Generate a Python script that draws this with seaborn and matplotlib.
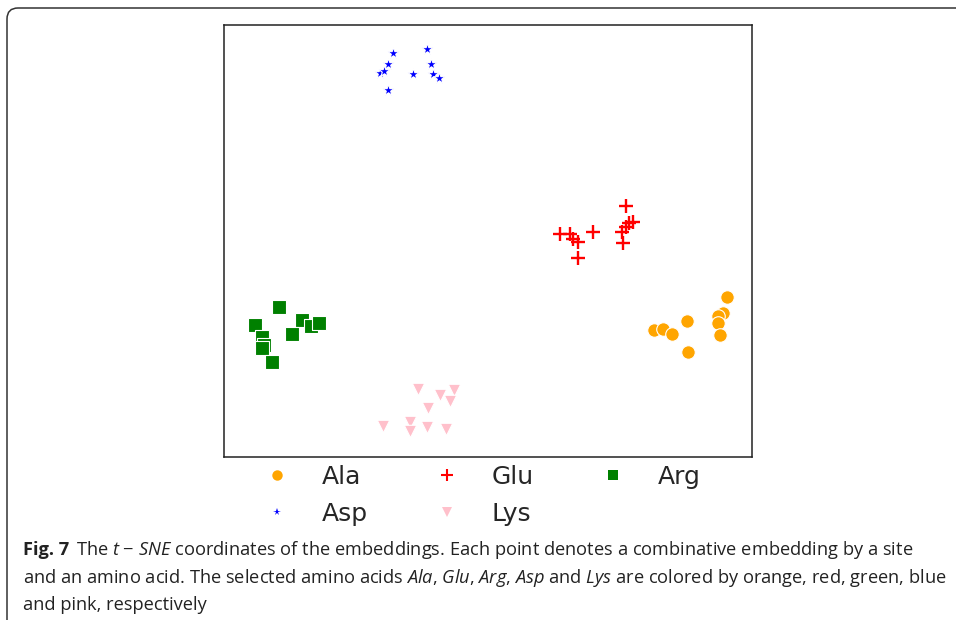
import numpy as np
import pandas as pd
import matplotlib
matplotlib.use("Agg")
import matplotlib.pyplot as plt
import seaborn as sns
from matplotlib.lines import Line2D
from matplotlib.patches import FancyBboxPatch
from matplotlib import font_manager

# ---- data (t-SNE coordinates) ----
ala_x = [23.9, 23.5, 23.0, 23.0, 23.2, 19.9, 20.0, 16.6, 17.5, 18.4]
ala_y = [-5.6, -7.2, -7.5, -8.2, -9.4, -8.0, -11.1, -8.9, -8.8, -9.3]

glu_x = [13.8, 7.2, 8.2, 8.5, 9.0, 9.0, 10.5, 13.5, 13.4, 13.8, 14.1, 14.5]
glu_y = [3.5, 0.7, 0.7, 0.2, -0.1, -1.7, 0.9, -0.2, 0.9, 1.4, 1.8, 1.9]

arg_x = [-20.9, -23.3, -18.6, -17.7, -16.9, -19.6, -22.6, -22.4, -22.6, -21.6]
arg_y = [-6.6, -8.4, -7.9, -8.5, -8.2, -9.3, -9.6, -10.4, -10.7, -12.1]

asp_x = [-9.5, -10.0, -10.8, -10.4, -10.0, -7.5, -6.1, -5.7, -5.5, -4.9]
asp_y = [18.8, 17.7, 16.8, 17.0, 15.1, 16.7, 19.2, 17.7, 16.7, 16.3]

lys_x = [-7.0, -4.8, -3.4, -3.8, -6.0, -10.5, -7.8, -7.8, -6.1, -4.2]
lys_y = [-14.8, -15.4, -14.9, -16.0, -16.7, -18.5, -18.1, -19.0, -18.6, -18.8]

labels = ["Ala", "Glu", "Arg", "Asp", "Lys"]
colors = ["orange", "red", "green", "blue", "pink"]
markers = ["o", "+", "s", "*", "v"]

sns.set_style("white")
plt.rcParams['font.family'] = ['DejaVu Sans']

names = {f.name for f in font_manager.fontManager.ttflist}
cap_font = next(f for f in ['Open Sans', 'Noto Sans', 'Liberation Sans', 'DejaVu Sans'] if f in names)
plt.rcParams['mathtext.fontset'] = 'custom'
plt.rcParams['mathtext.rm'] = cap_font
plt.rcParams['mathtext.it'] = cap_font + ':italic'
plt.rcParams['mathtext.bf'] = cap_font + ':bold'

fig = plt.figure(figsize=(9.56, 6.2), dpi=100)
ax = fig.add_axes([224 / 956, 1 - 457 / 620, 528 / 956, 432 / 620])

data = [(ala_x, ala_y), (glu_x, glu_y), (arg_x, arg_y), (asp_x, asp_y), (lys_x, lys_y)]
sizes = [95, 115, 90, 75, 80]
for (xs, ys), lab, c, m, s in zip(data, labels, colors, markers, sizes):
    df = pd.DataFrame({"x": xs, "y": ys})
    if m == "+":
        sns.scatterplot(data=df, x="x", y="y", color=c, marker=m, s=s,
                        linewidth=1.7, ax=ax, legend=False)
    else:
        sns.scatterplot(data=df, x="x", y="y", color=c, marker=m, s=s,
                        edgecolor="white", linewidth=0.8, ax=ax, legend=False)

ax.set_xlim(-26.4, 26.4)
ax.set_ylim(-21.6, 21.6)
ax.set_xticks([])
ax.set_yticks([])
ax.set_xlabel("")
ax.set_ylabel("")
for sp in ax.spines.values():
    sp.set_visible(True)
    sp.set_color("#222222")
    sp.set_linewidth(1.1)

# ---- legend (row-wise: Ala Glu Arg / Asp Lys) ----
msize = {"o": 7.5, "+": 8, "s": 6.5, "*": 5.5, "v": 7}
handles = {lab: Line2D([], [], linestyle="", marker=m, color=c, markersize=msize[m],
                       markeredgewidth=1.5 if m == "+" else 0.0)
           for lab, c, m in zip(labels, colors, markers)}
order = ["Ala", "Asp", "Glu", "Lys", "Arg"]
fig.legend([handles[o] for o in order], order, ncol=3, frameon=False,
           fontsize=18, loc="upper left", bbox_to_anchor=(252 / 956, 1 - 465 / 620),
           borderaxespad=0, borderpad=0, handlelength=2.0, handletextpad=0.8,
           columnspacing=2.15, labelspacing=0.5)

# ---- caption ----
head = "Fig. 7"
line1 = r"The $\mathit{t}$ − $\mathit{SNE}$ coordinates of the embeddings. Each point denotes a combinative embedding by a site"
line2 = r"and an amino acid. The selected amino acids $\mathit{Ala}$, $\mathit{Glu}$, $\mathit{Arg}$, $\mathit{Asp}$ and $\mathit{Lys}$ are colored by orange, red, green, blue"
line3 = "and pink, respectively"
renderer = fig.canvas.get_renderer()


def width_px(s, size, weight="normal"):
    t = fig.text(0, 0, s, fontsize=size, family=cap_font, weight=weight)
    w = t.get_window_extent(renderer).width
    t.remove()
    return w


w_head = width_px(head, 12, "bold")
w1 = width_px(line1, 12)
w2 = width_px(line2, 12)
gap = 0.55 * 12
fs = min(12 * 916 / (w_head + gap + w1), 12 * 920 / w2)
x0 = 23
w_head_fs = width_px(head, fs, "bold")
fig.text(x0 / 956, 1 - 555 / 620, head, fontsize=fs, family=cap_font, weight="bold",
         va="baseline", ha="left", color="#222222")
fig.text((x0 + w_head_fs + 0.55 * fs) / 956, 1 - 555 / 620, line1, fontsize=fs,
         family=cap_font, va="baseline", ha="left", color="#222222")
for txt, yb in [(line2, 583), (line3, 610)]:
    fig.text(x0 / 956, 1 - yb / 620, txt, fontsize=fs, family=cap_font,
             va="baseline", ha="left", color="#222222")

# ---- frame border with rounded top-left corner ----
box = FancyBboxPatch((7, -40), 1100, 620 - 8 + 40, boxstyle="round,pad=0,rounding_size=11",
                     transform=None, facecolor="none", edgecolor="#333333", linewidth=1.1)
fig.add_artist(box)

fig.savefig("out.png", dpi=100)
